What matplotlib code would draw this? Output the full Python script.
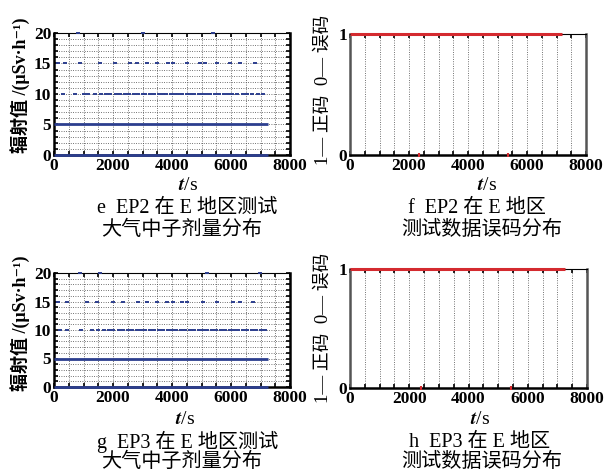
import matplotlib
matplotlib.use("Agg")
import matplotlib.pyplot as plt
from matplotlib.ticker import MultipleLocator
from matplotlib.font_manager import FontProperties

plt.rcParams['font.family'] = ['Liberation Serif', 'Noto Sans CJK SC', 'DejaVu Serif']
plt.rcParams['mathtext.fontset'] = 'stix'

# ---------------- data ----------------
x_ticks = [0, 2000, 4000, 6000, 8000]
dose_ticks = [0, 5, 10, 15, 20]
code_ticks = [0, 1]

# radiation levels recorded (uSv/h) -- EP2 (panel e)
e_record_end = 7250
e_continuous_levels = [0, 5]
e_t_level10 = [320, 700, 1000, 1150, 1400, 1600, 1750, 1900, 2100, 2250, 2400, 2550,
               2700, 2850, 3000, 3100, 3250, 3400, 3550, 3700, 3800, 3950, 4100, 4200,
               4350, 4500, 4600, 4750, 4900, 5000, 5150, 5300, 5450, 5600, 5750, 5900,
               6050, 6200, 6400, 6550, 6700, 6900, 7100]
e_t_level15 = [147, 373, 881, 1559, 2067, 2576, 2802, 3141, 3480, 3876, 4045, 4497,
               4949, 5119, 5514, 5966, 6305, 6814]
e_t_level20 = [825, 3028, 5401]

# EP3 (panel g)
g_record_end = 7250
g_continuous_levels = [0, 5]
g_t_level10 = [200, 450, 900, 1300, 1500, 1700, 1850, 2000, 2200, 2350, 2500, 2650,
               2800, 2950, 3100, 3250, 3400, 3550, 3700, 3850, 4000, 4150, 4300, 4450,
               4600, 4750, 4900, 5050, 5200, 5350, 5500, 5650, 5800, 5950, 6100, 6250,
               6400, 6550, 6700, 6850, 7000, 7150]
g_t_level15 = [147, 429, 1107, 1446, 2011, 2350, 2859, 3141, 3480, 3819, 4045, 4328,
               4497, 5062, 5514, 6079, 6305, 6757]
g_t_level20 = [881, 1559, 5186, 6983]

# data error code (1 = correct, 0 = error)
f_record_end = 7200
f_error_times = [2330, 5370]
h_record_end = 7260
h_error_times = [2390, 5420]

# ---------------- styling ----------------
BLUE = '#2c3e8e'
RED = '#d42a2f'
tick_fp = FontProperties(family=['Liberation Serif', 'DejaVu Serif'], weight='bold', size=12.5)

fig = plt.figure(figsize=(6.04, 4.74), dpi=100)


def style_common(ax):
    for s in ['left', 'bottom', 'right']:
        ax.spines[s].set_linewidth(1.8)
        ax.spines[s].set_color('black')
    ax.spines['top'].set_linewidth(0.8)
    ax.set_xlim(0, 8000)
    ax.set_xticks(x_ticks)
    ax.xaxis.set_minor_locator(MultipleLocator(500))
    ax.tick_params(which='both', direction='in', top=True, right=True, length=3, width=1.2,
                   pad=2)
    for lab in ax.get_xticklabels() + ax.get_yticklabels():
        lab.set_fontproperties(tick_fp)


def dose_panel(ax, end, cont_levels, t10, t15, t20):
    ax.set_ylim(0, 20)
    ax.set_yticks(dose_ticks)
    ax.yaxis.set_minor_locator(MultipleLocator(1))
    style_common(ax)
    ax.grid(which='both', axis='both', linestyle=(0, (1.0, 1.8)), color='#444444', lw=0.6)
    for lvl in cont_levels:
        ax.plot([0, end], [lvl, lvl], color=BLUE, lw=2.0, solid_capstyle='butt',
                clip_on=False, zorder=5)
    for lvl, ts in [(10, t10), (15, t15), (20, t20)]:
        ax.plot(ts, [lvl] * len(ts), linestyle='none', marker='_', markersize=2.3,
                markeredgewidth=1.4, color=BLUE, clip_on=False, zorder=5)


def code_panel(ax, end, err_t):
    ax.set_ylim(0, 1)
    ax.set_yticks(code_ticks)
    style_common(ax)
    ax.spines['left'].set_color('#555555')
    ax.spines['right'].set_color('#555555')
    ax.tick_params(axis='y', which='both', right=False, left=False)
    ax.grid(which='both', axis='x', linestyle=(0, (1.0, 1.8)), color='#444444', lw=0.6)
    ax.plot([0, end], [1, 1], color=RED, lw=2.2, solid_capstyle='butt', clip_on=False,
            zorder=5)
    ax.plot(err_t, [0] * len(err_t), linestyle='none', marker='|', markersize=3,
            markeredgewidth=1.5, color=RED, clip_on=False, zorder=6)


def fx(px):
    return px / 604


def fy(py):
    return 1 - py / 474


ax_e = fig.add_axes([fx(54), fy(155), fx(236), 122 / 474])
ax_f = fig.add_axes([fx(350), fy(155), fx(236), 121 / 474])
ax_g = fig.add_axes([fx(54), fy(387), fx(236), 114 / 474])
ax_h = fig.add_axes([fx(350), fy(388), fx(237), 119 / 474])

dose_panel(ax_e, e_record_end, e_continuous_levels, e_t_level10, e_t_level15, e_t_level20)
dose_panel(ax_g, g_record_end, g_continuous_levels, g_t_level10, g_t_level15, g_t_level20)
code_panel(ax_f, f_record_end, f_error_times)
code_panel(ax_h, h_record_end, h_error_times)

ylab_dose = '辐射值 /(μSv·h⁻¹)'
ylab_code = '1— 正码  0— 误码'
cap_kw = dict(ha='center', va='center', fontsize=14.5)

for (cx_t, cy_t, cx1, cy1, l1, cx2, cy2, l2) in [
    (188, 186, 187, 208, 'e  EP2 在 E 地区测试', 182, 230, '大气中子剂量分布'),
    (487, 186, 477, 208, 'f  EP2 在 E 地区', 482, 230, '测试数据误码分布'),
    (185, 420, 188, 442, 'g  EP3 在 E 地区测试', 182, 462, '大气中子剂量分布'),
    (480, 420, 480, 442, 'h  EP3 在 E 地区', 482, 462, '测试数据误码分布'),
]:
    fig.text(fx(cx_t), fy(cy_t), r'$\boldsymbol{t}$/s', ha='center', va='center',
             fontsize=14)
    fig.text(fx(cx1), fy(cy1), l1, **cap_kw)
    fig.text(fx(cx2), fy(cy2), l2, **cap_kw)

for yc in (85, 323):
    fig.text(fx(20), fy(yc), ylab_dose, rotation=90, ha='center', va='center',
             fontsize=13, weight='bold')
for yc in (90, 328):
    fig.text(fx(323), fy(yc), ylab_code, rotation=90, ha='center', va='center', fontsize=13.5)

fig.savefig('out.png', dpi=100)
